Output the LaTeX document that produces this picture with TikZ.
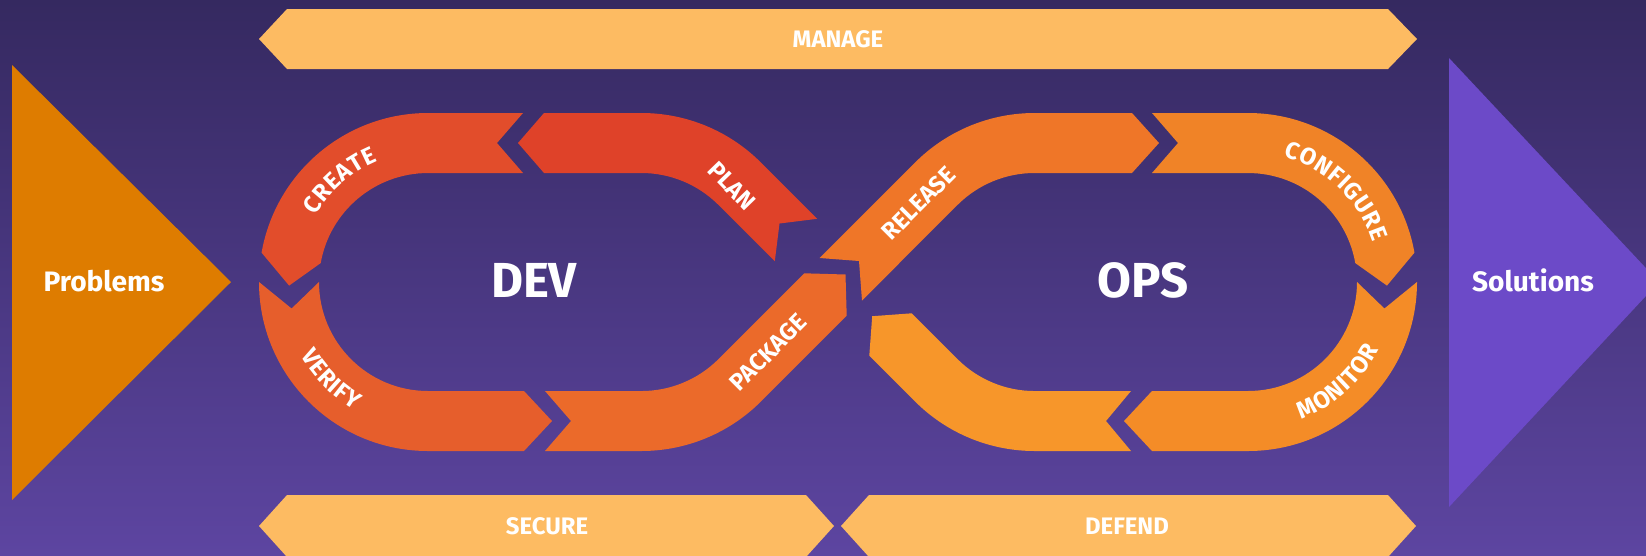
\documentclass[tikz,border=0pt]{standalone}
\usepackage{fontspec}
\setmainfont{Fira Sans}
\usetikzlibrary{decorations.text}

\definecolor{bgtop}{HTML}{352960}
\definecolor{bgbot}{HTML}{5D45A1}
\definecolor{probc}{HTML}{DE7C00}
\definecolor{solc}{HTML}{6C4AC8}
\definecolor{bannerc}{HTML}{FDBB62}
\definecolor{planc}{HTML}{DF4229}
\definecolor{createc}{HTML}{E24D2B}
\definecolor{verifyc}{HTML}{E65E2C}
\definecolor{packagec}{HTML}{EB6A2A}
\definecolor{releasec}{HTML}{EF7628}
\definecolor{configc}{HTML}{F08327}
\definecolor{monitorc}{HTML}{F48C27}
\definecolor{lastc}{HTML}{F7962A}

\newcommand\lblfont{\bfseries\fontsize{13.6}{15}\selectfont}
\newcommand\ks{{\kern0.4pt}}

\begin{document}
\begin{tikzpicture}[x=0.02cm,y=-0.02cm,
  lbl/.style={text=white,font=\lblfont,inner sep=0pt},
  big/.style={text=white,font=\bfseries\fontsize{16}{18}\selectfont,inner sep=0pt},
  huge/.style={text=white,font=\bfseries\fontsize{28}{30}\selectfont,inner sep=0pt},
  banner/.style={fill=bannerc},
  arclabel/.style={decorate,decoration={text along path,text align=center,text={|\color{white}\lblfont|#1}}}
]
\shade[top color=bgtop,bottom color=bgbot] (0,0) rectangle (1646,555);
\useasboundingbox (0,0) rectangle (1646,555);
\clip (0,0) rectangle (1646,555);

% side triangles
\fill[probc] (12,65) -- (231,282) -- (12,500) -- cycle;
\fill[solc] (1449,58) -- (1659,282) -- (1449,507) -- cycle;
\node[big] (prob) at (104,281) {Problems};
\node[big] (sol) at (1533,280) {Solutions};

% banners
\fill[banner] (259,39) -- (287,9) -- (1388,9) -- (1417,39) -- (1388,69) -- (287,69) -- cycle;
\fill[banner] (259,526) -- (287,495) -- (806,495) -- (834,526) -- (806,557) -- (287,557) -- cycle;
\fill[banner] (841,526) -- (869,495) -- (1388,495) -- (1416,526) -- (1388,557) -- (869,557) -- cycle;
\node[lbl] (manage) at (838,39) {MANAGE};
\node[lbl] (secure) at (547,526) {SECURE};
\node[lbl] (defend) at (1127,526) {DEFEND};

% PLAN
\fill[planc] (817.2,218.8) -- (760.9,162.5) arc[start angle=-45,end angle=-90,radius=169]
  -- (544,113) -- (518,143) -- (544,173) -- (641.4,173)
  arc[start angle=-90,end angle=-45,radius=109] -- (774.8,261.2) -- (779.5,223.5) -- cycle;
% CREATE
\fill[createc] (523,113) -- (428,113) arc[start angle=270,end angle=190,radius=169]
  -- (289.1,285.6) -- (320.7,263.1) arc[start angle=190,end angle=270,radius=109]
  -- (523,173) -- (497,143) -- cycle;
% VERIFY
\fill[verifyc] (259,282) arc[start angle=180,end angle=90,radius=169]
  -- (524,451) -- (552,421) -- (524,391) -- (428,391)
  arc[start angle=90,end angle=180,radius=109] -- (291.6,308.5) -- cycle;
% PACKAGE
\fill[packagec] (545,451) -- (641.4,451) arc[start angle=90,end angle=45,radius=169]
  -- (846.7,315.7) -- (845.5,274.5) -- (804.3,273.3) -- (718.5,359.1)
  arc[start angle=45,end angle=90,radius=109] -- (545,391) -- (571,421) -- cycle;
% RELEASE
\fill[releasec] (819.6,258) -- (915.1,162.5) arc[start angle=-135,end angle=-90,radius=169]
  -- (1132,113) -- (1159,143) -- (1132,173) -- (1034.6,173)
  arc[start angle=-90,end angle=-135,radius=109] -- (862,300.5) -- (859,261) -- cycle;
% CONFIGURE
\fill[configc] (1152,113) -- (1248,113) arc[start angle=-90,end angle=-10,radius=169]
  -- (1386.95,285.6) -- (1355.3,263.1) arc[start angle=-10,end angle=-90,radius=109]
  -- (1152,173) -- (1178,143) -- cycle;
% MONITOR
\fill[monitorc] (1417,282) arc[start angle=0,end angle=90,radius=169]
  -- (1152,451) -- (1124,421) -- (1152,391) -- (1248,391)
  arc[start angle=90,end angle=0,radius=109] -- (1384.4,308.5) -- cycle;
% last (unlabelled)
\fill[lastc] (1131,451) -- (1034.6,451) arc[start angle=90,end angle=135,radius=169]
  -- (869.3,355.7) -- (872.2,316.2) -- (911.7,313.3) -- (957.5,359.1)
  arc[start angle=135,end angle=90,radius=109] -- (1131,391) -- (1106,421) -- cycle;

% loop labels
\node[huge] (dev) at (534,280) {DEV};
\node[huge] (ops) at (1143,280) {OPS};
\node[lbl,rotate=-46] (plan) at (731.7,185.8) {PLAN};
\node[lbl,rotate=45] (package) at (768,352.5) {PACKAGE};
\node[lbl,rotate=45] (release) at (918.5,203.3) {RELEASE};
\path[arclabel={C\ks R\ks E\ks A\ks T\ks E},shift={(428,282)}] (179:130.7) arc[start angle=179,end angle=279,radius=130.7];
\path[arclabel={V\ks E\ks R\ks I\ks F\ks Y},shift={(428,282)}] (180:147.3) arc[start angle=180,end angle=90,radius=147.3];
\path[arclabel={C\ks O\ks N\ks F\ks I\ks G\ks U\ks R\ks E},shift={(1248,282)}] (-91:130.7) arc[start angle=-91,end angle=-1,radius=130.7];
\path[arclabel={M\ks O\ks N\ks I\ks T\ks O\ks R},shift={(1248,282)}] (96:147.3) arc[start angle=96,end angle=0,radius=147.3];
\end{tikzpicture}
\end{document}
